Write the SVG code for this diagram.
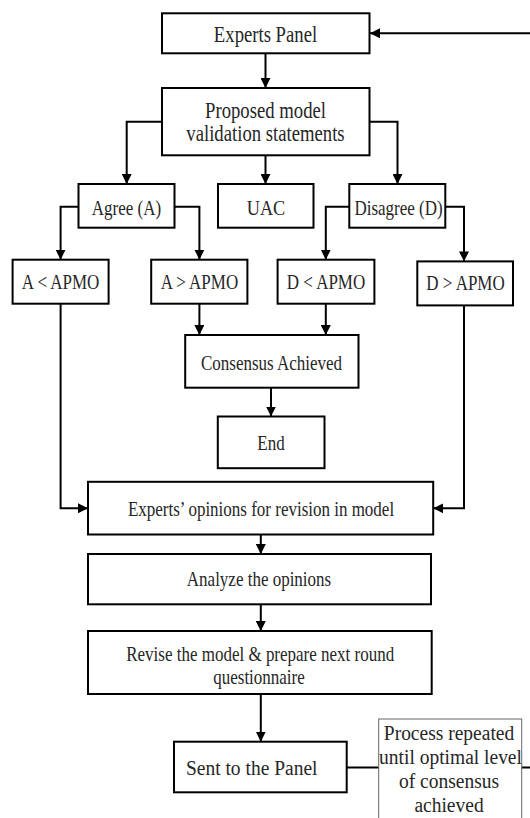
<svg xmlns="http://www.w3.org/2000/svg" width="530" height="818" viewBox="0 0 530 818">
<defs>
<marker id="arr" viewBox="0 0 10 10" refX="10" refY="5" markerWidth="10" markerHeight="10" markerUnits="userSpaceOnUse" orient="auto">
<path d="M0,0 L10,5 L0,10 z" fill="#000"/>
</marker>
</defs>
<style>
.box{fill:#fff;stroke:#000;stroke-width:2}
.note{fill:#fff;stroke:#666;stroke-width:1}
.t{fill:#262626;text-anchor:middle;font-size:17px}
.l{font-size:18.7px}
.xl{font-size:19.5px}
.c{fill:none;stroke:#000;stroke-width:2}
.a{marker-end:url(#arr)}
</style>
<rect width="530" height="818" fill="#fff"/>
<g id="connectors">
<path class="c a" d="M530,33.3 H370"/>
<path class="c a" d="M265.5,53.3 V88"/>
<path class="c a" d="M162,121.7 H126.7 V184"/>
<path class="c a" d="M265.5,155.3 V184"/>
<path class="c a" d="M369.5,121.7 H397.5 V184"/>
<path class="c a" d="M78.5,206.7 H60.6 V259.7"/>
<path class="c a" d="M174.5,206.7 H199.4 V259.7"/>
<path class="c a" d="M349.3,206.7 H325.8 V259.7"/>
<path class="c a" d="M445.3,206.7 H464 V261.4"/>
<path class="c a" d="M199.4,303.7 V335"/>
<path class="c a" d="M325.8,303.7 V335"/>
<path class="c a" d="M271,387.7 V416.5"/>
<path class="c a" d="M60.6,303.7 V508.3 H88"/>
<path class="c a" d="M464,305.4 V508.3 H433.2"/>
<path class="c a" d="M260.8,534.5 V554"/>
<path class="c a" d="M260.8,604.3 V631"/>
<path class="c a" d="M260.8,694 V741.7"/>
<path class="c" d="M346.7,767.5 H530"/>
</g>
<g font-family="'Liberation Serif', 'Times New Roman', 'DejaVu Serif', serif">
<g id="experts-panel">
<rect class="box" x="162" y="13.3" width="207.5" height="40"/>
<text class="t l" transform="translate(265.5,41.5) scale(1,1.18)">Experts Panel</text>
</g>
<g id="proposed">
<rect class="box" x="162" y="88" width="207.5" height="67.3"/>
<text class="t l" transform="translate(265.5,117.5) scale(1,1.18)">Proposed model</text>
<text class="t l" transform="translate(265.5,140.5) scale(1,1.18)">validation statements</text>
</g>
<g id="agree">
<rect class="box" x="78.5" y="184" width="96" height="43.7"/>
<text class="t" transform="translate(126.5,214.5) scale(1,1.18)">Agree (A)</text>
</g>
<g id="uac">
<rect class="box" x="218" y="184" width="95.5" height="43.7"/>
<text class="t" style="font-size:18.3px" transform="translate(266,214.5) scale(1,1.18)">UAC</text>
</g>
<g id="disagree">
<rect class="box" x="349.3" y="184" width="96" height="43.7"/>
<text class="t" transform="translate(398.5,214.5) scale(1,1.18)">Disagree (D)</text>
</g>
<g id="a-lt">
<rect class="box" x="12.6" y="259.7" width="96" height="44"/>
<text class="t" transform="translate(60.6,288.5) scale(1,1.18)">A &lt; APMO</text>
</g>
<g id="a-gt">
<rect class="box" x="151.2" y="259.7" width="96.2" height="44"/>
<text class="t" transform="translate(199.4,288.5) scale(1,1.18)">A &gt; APMO</text>
</g>
<g id="d-lt">
<rect class="box" x="277.6" y="259.7" width="96.8" height="44"/>
<text class="t" transform="translate(326,288.5) scale(1,1.18)">D &lt; APMO</text>
</g>
<g id="d-gt">
<rect class="box" x="417.3" y="261.4" width="95.7" height="44"/>
<text class="t" transform="translate(465.5,290.3) scale(1,1.18)">D &gt; APMO</text>
</g>
<g id="consensus">
<rect class="box" x="185.2" y="335" width="173.3" height="52.7"/>
<text class="t" transform="translate(271.5,369.5) scale(1,1.18)">Consensus Achieved</text>
</g>
<g id="end">
<rect class="box" x="217.8" y="416.5" width="106.7" height="51.7"/>
<text class="t" transform="translate(271,450.3) scale(1,1.18)">End</text>
</g>
<g id="opinions">
<rect class="box" x="88" y="481.8" width="345.2" height="52.7"/>
<text class="t" transform="translate(261,515.5) scale(1,1.18)">Experts’ opinions for revision in model</text>
</g>
<g id="analyze">
<rect class="box" x="88" y="554" width="343" height="50.3"/>
<text class="t" transform="translate(259,585.5) scale(1,1.18)">Analyze the opinions</text>
</g>
<g id="revise">
<rect class="box" x="88" y="631" width="343.7" height="63"/>
<text class="t" transform="translate(260.2,660.5) scale(1,1.18)">Revise the model &amp; prepare next round</text>
<text class="t" transform="translate(259,683.5) scale(1,1.18)">questionnaire</text>
</g>
<g id="sent">
<rect class="box" x="174" y="741.7" width="172.7" height="50.6"/>
<text class="t xl" transform="translate(251.7,774.5) scale(1,1.12)">Sent to the Panel</text>
</g>
<g id="process-note">
<rect class="note" x="378.7" y="719" width="143" height="110"/>
<text class="t xl" transform="translate(449,740) scale(1,1.12)">Process repeated</text>
<text class="t xl" transform="translate(450.5,763.5) scale(1,1.12)">until optimal level</text>
<text class="t xl" transform="translate(449,787.5) scale(1,1.12)">of consensus</text>
<text class="t xl" transform="translate(449,811.5) scale(1,1.12)">achieved</text>
</g>
</g>
</svg>
